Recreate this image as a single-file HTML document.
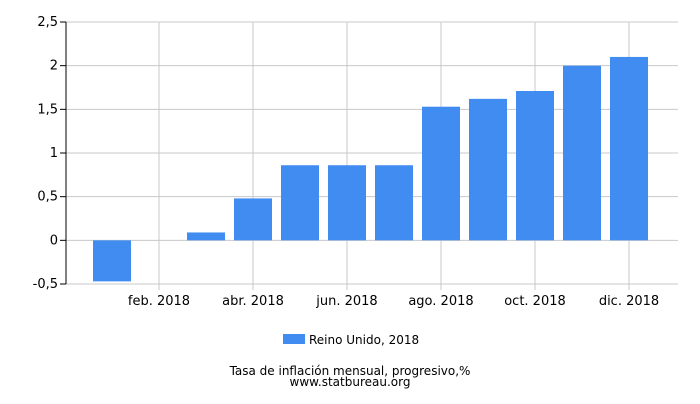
<!DOCTYPE html>
<html><head><meta charset="utf-8"><style>
body{margin:0;background:#fff;font-family:"DejaVu Sans","Liberation Sans",sans-serif;}
</style></head><body>
<svg width="700" height="400" xmlns="http://www.w3.org/2000/svg" id="chart" font-family="DejaVu Sans, Liberation Sans, sans-serif"></svg>
<script>
const categories=["ene. 2018","feb. 2018","mar. 2018","abr. 2018","may. 2018","jun. 2018","jul. 2018","ago. 2018","sep. 2018","oct. 2018","nov. 2018","dic. 2018"];
const values=[-0.47,0,0.09,0.48,0.86,0.86,0.86,1.53,1.62,1.71,2.0,2.1];
const yTicks=[-0.5,0,0.5,1,1.5,2,2.5];
const yTickLabels=["-0,5","0","0,5","1","1,5","2","2,5"];
const NS="http://www.w3.org/2000/svg";
const svg=document.getElementById('chart');
const L=66,R=678,T=22,B=284,yMin=-0.5,yMax=2.5;
const y=v=>B-(v-yMin)/(yMax-yMin)*(B-T);
const x=i=>112+i*47;
function mk(t,a){const e=document.createElementNS(NS,t);for(const k in a)e.setAttribute(k,a[k]);svg.appendChild(e);return e;}
yTicks.forEach((v,i)=>{
 const g=mk('line',{x1:L,x2:R,y1:y(v),y2:y(v),stroke:'#c8c8c8','stroke-width':1});
 
 
 const tk=mk('line',{x1:L-6,x2:L,y1:y(v),y2:y(v),stroke:'#000'});
 
 
 const t=mk('text',{x:L-8,y:y(v)+4,'text-anchor':'end','font-size':13,fill:'#000'});
 t.textContent=yTickLabels[i];
 
 
});
categories.forEach((c,i)=>{
 if(i%2===1){
  const g=mk('line',{x1:x(i),x2:x(i),y1:T,y2:B+6,stroke:'#c8c8c8'});
  
  
  const t=mk('text',{x:x(i),y:305,'text-anchor':'middle','font-size':13,fill:'#000'});
  t.textContent=c;
  
  
 }
});
const ax=mk('line',{x1:L,x2:L,y1:T,y2:B,stroke:'#000'});


values.forEach((v,i)=>{
 const y0=y(0),y1=y(v);
 const r=mk('rect',{x:x(i)-19,y:Math.min(y0,y1),width:38,height:Math.abs(y1-y0),fill:'#418cf0'});
 
 
});
const lg=mk('rect',{x:283,y:334,width:22,height:10,fill:'#418cf0'});


const lt=mk('text',{x:309,y:344,'font-size':12,fill:'#000'});
lt.textContent='Reino Unido, 2018';


const t1=mk('text',{x:350,y:375,'text-anchor':'middle','font-size':12,fill:'#000'});
t1.textContent='Tasa de inflación mensual, progresivo,%';


const t2=mk('text',{x:350,y:386,'text-anchor':'middle','font-size':12,fill:'#000'});
t2.textContent='www.statbureau.org';


</script>
</body></html>
